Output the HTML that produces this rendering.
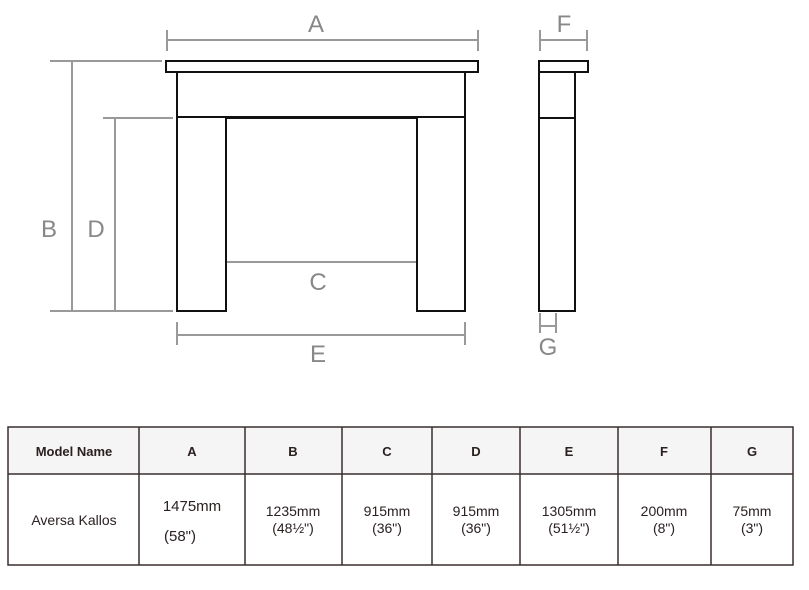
<!DOCTYPE html>
<html><head><meta charset="utf-8"><style>
html,body{margin:0;padding:0;background:#fff;width:809px;height:590px;overflow:hidden}
svg{display:block}
</style></head><body>
<svg width="809" height="590" viewBox="0 0 809 590" xmlns="http://www.w3.org/2000/svg" font-family="Liberation Sans, sans-serif">
<g stroke="#999" stroke-width="2" fill="none">
<line x1="167" y1="40" x2="478" y2="40"/><line x1="167" y1="30" x2="167" y2="51"/><line x1="478" y1="30" x2="478" y2="51"/>
<line x1="540" y1="40" x2="587" y2="40"/><line x1="540" y1="30" x2="540" y2="51"/><line x1="587" y1="30" x2="587" y2="51"/>
<line x1="50" y1="61" x2="162" y2="61"/><line x1="50" y1="311" x2="173" y2="311"/><line x1="72" y1="61" x2="72" y2="311"/>
<line x1="103" y1="118" x2="173" y2="118"/><line x1="115" y1="118" x2="115" y2="311"/>
<line x1="177" y1="335" x2="465" y2="335"/><line x1="177" y1="322" x2="177" y2="345"/><line x1="465" y1="322" x2="465" y2="345"/>
<line x1="540" y1="326" x2="556" y2="326"/><line x1="540" y1="313" x2="540" y2="333"/><line x1="556" y1="313" x2="556" y2="333"/>
<line x1="226" y1="262" x2="417" y2="262"/>
</g>
<g stroke="#111" stroke-width="2" fill="none">
<rect x="166" y="61" width="312" height="11"/>
<path d="M177 72 V311 H226 V118 H417 V311 H465 V72"/>
<line x1="177" y1="117" x2="465" y2="117"/>
<rect x="539" y="61" width="49" height="11"/>
<path d="M539 72 V311 H575 V72"/>
<line x1="539" y1="118" x2="575" y2="118"/>
</g>
<g fill="#888" font-size="24" text-anchor="middle">
<text x="316" y="32">A</text><text x="564" y="32">F</text>
<text x="49" y="237">B</text><text x="96" y="237">D</text>
<text x="318" y="290">C</text><text x="318" y="362">E</text><text x="548" y="355">G</text>
</g>
<rect x="8" y="427" width="785" height="47" fill="#f5f5f5"/>
<g stroke="#3a2e2e" stroke-width="1.5" fill="none">
<rect x="8" y="427" width="785" height="138"/>
<line x1="8" y1="474" x2="793" y2="474"/>
<line x1="139" y1="427" x2="139" y2="565"/><line x1="245" y1="427" x2="245" y2="565"/>
<line x1="342" y1="427" x2="342" y2="565"/><line x1="432" y1="427" x2="432" y2="565"/>
<line x1="520" y1="427" x2="520" y2="565"/><line x1="618" y1="427" x2="618" y2="565"/>
<line x1="711" y1="427" x2="711" y2="565"/>
</g>
<g fill="#2a2020" font-size="13" font-weight="bold" text-anchor="middle">
<text x="74" y="456">Model Name</text><text x="192" y="456">A</text><text x="293" y="456">B</text>
<text x="387" y="456">C</text><text x="476" y="456">D</text><text x="569" y="456">E</text>
<text x="664" y="456">F</text><text x="752" y="456">G</text>
</g>
<g fill="#2a2020" font-size="14" text-anchor="middle">
<text x="74" y="525">Aversa Kallos</text>
<text x="192" y="511" font-size="15">1475mm</text><text x="180" y="541" font-size="15">(58")</text>
<text x="293" y="516">1235mm</text><text x="293" y="533">(48½")</text>
<text x="387" y="516">915mm</text><text x="387" y="533">(36")</text>
<text x="476" y="516">915mm</text><text x="476" y="533">(36")</text>
<text x="569" y="516">1305mm</text><text x="569" y="533">(51½")</text>
<text x="664" y="516">200mm</text><text x="664" y="533">(8")</text>
<text x="752" y="516">75mm</text><text x="752" y="533">(3")</text>
</g>
</svg>
</body></html>
